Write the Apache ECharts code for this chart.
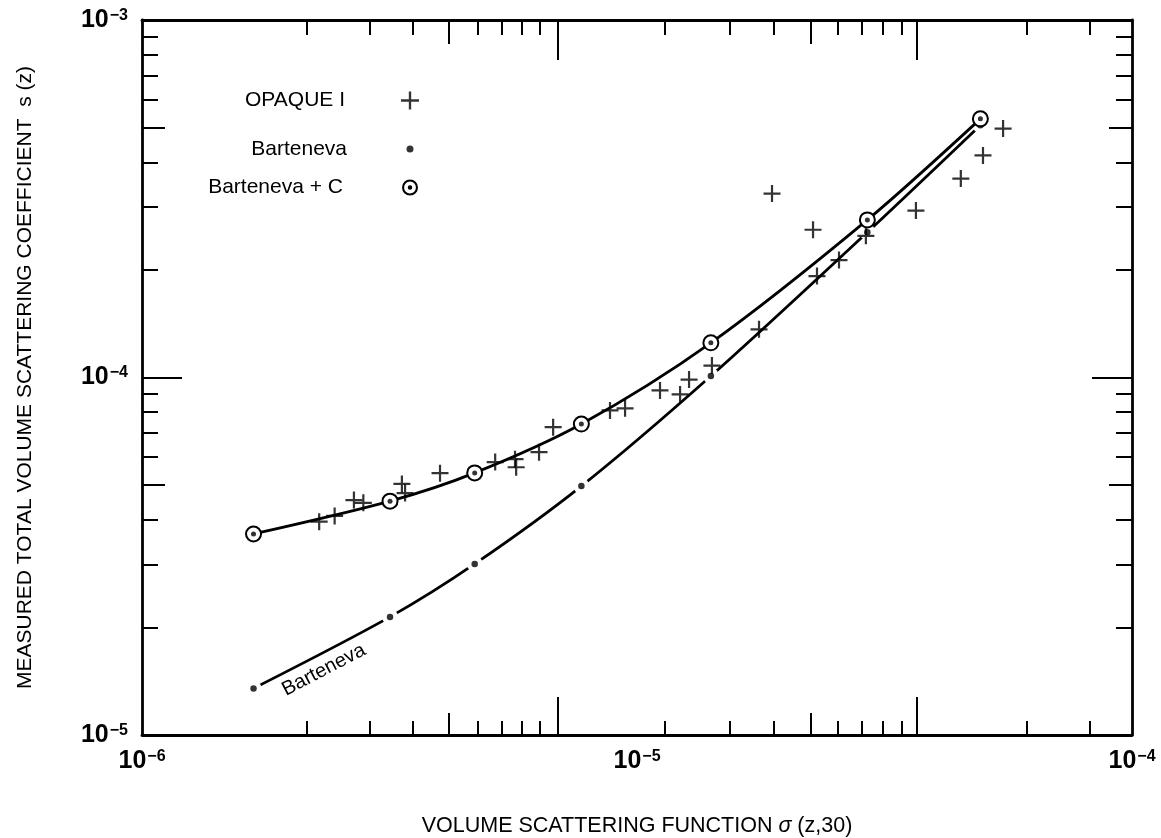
<!DOCTYPE html>
<html><head><meta charset="utf-8">
<script src="https://cdn.jsdelivr.net/npm/echarts@6/dist/echarts.min.js"></script>
<style>html,body{margin:0;padding:0;background:#fff}#c{width:1161px;height:838px}</style>
</head><body><div id="c"></div>
<script>
// ---- data ----
const modelSigma  = [1.68e-6, 3.17e-6, 4.70e-6, 7.72e-6, 1.41e-5, 2.92e-5, 4.94e-5];
const barteneva   = [1.35e-5, 2.14e-5, 3.01e-5, 4.97e-5, 1.01e-4, 2.55e-4, 5.08e-4];
const bartenevaC  = [3.65e-5, 4.51e-5, 5.41e-5, 7.41e-5, 1.25e-4, 2.76e-4, 5.29e-4];
const opaqueSigma = [2.28e-6, 2.45e-6, 2.68e-6, 2.80e-6, 3.35e-6, 3.40e-6, 4.00e-6, 5.17e-6, 5.67e-6, 5.70e-6,
                     6.34e-6, 6.77e-6, 8.82e-6, 9.46e-6, 1.113e-5, 1.222e-5, 1.274e-5, 1.417e-5, 1.764e-5, 1.874e-5,
                     2.268e-5, 2.31e-5, 2.559e-5, 2.90e-5, 3.66e-5, 4.51e-5, 5.00e-5, 5.49e-5];
const opaqueS     = [3.95e-5, 4.10e-5, 4.54e-5, 4.46e-5, 5.04e-5, 4.75e-5, 5.40e-5, 5.80e-5, 5.91e-5, 5.61e-5,
                     6.18e-5, 7.26e-5, 8.09e-5, 8.20e-5, 9.20e-5, 8.97e-5, 9.87e-5, 1.08e-4, 1.364e-4, 3.27e-4,
                     2.59e-4, 1.922e-4, 2.13e-4, 2.49e-4, 2.93e-4, 3.60e-4, 4.18e-4, 4.97e-4];
// tick labels and tick marks
const xLabelValues = [1e-6, 1e-5, 1e-4];
const yLabelValues = [1e-5, 1e-4, 1e-3];
const xMajorTicks = [6.92e-6, 3.68e-5];
const xMidTicks   = [4.17e-6, 2.24e-5];
const xMinorTicks = [2.15e-6, 2.88e-6, 3.53e-6, 4.77e-6, 5.34e-6, 5.86e-6, 6.37e-6,
                     1.14e-5, 1.54e-5, 1.89e-5, 2.55e-5, 2.85e-5, 3.14e-5, 3.42e-5, 6.14e-5, 8.23e-5];
const yMajorTicks = [1e-4];
const yMidTicks   = [5e-5, 5e-4];
const yMinorTicks = [2e-5, 3e-5, 4e-5, 6e-5, 7e-5, 8e-5, 9e-5, 2e-4, 3e-4, 4e-4, 6e-4, 7e-4, 8e-4, 9e-4];
const curveLabelAt = [2.33e-6, 1.52e-5];

const xTitle = 'VOLUME SCATTERING FUNCTION {i|σ} (z,30)';
const yTitle = 'MEASURED TOTAL VOLUME SCATTERING COEFFICIENT  s (z)';

// ---- styling ----
const FONT = '"Liberation Sans", Arial, Helvetica, sans-serif';
const BLACK = '#000';
const PLUS = 'path://M8.7,0 H11.3 V8.7 H20 V11.3 H11.3 V20 H8.7 V11.3 H0 V8.7 H8.7 Z';
const RINGDOT = 'path://M10,0 A10,10 0 1,1 10,20 A10,10 0 1,1 10,0 Z M10,2.6 A7.4,7.4 0 1,0 10,17.4 A7.4,7.4 0 1,0 10,2.6 Z M10,7.2 A2.8,2.8 0 1,1 10,12.8 A2.8,2.8 0 1,1 10,7.2 Z';

function supLabel(v) {
  const e = Math.round(Math.log10(v));
  return '{b|10}{s|' + (e < 0 ? '\u2212' : '') + Math.abs(e) + '}';
}
const labelRich = {
  b: { fontSize: 25, fontWeight: 'bold', fontFamily: FONT, color: BLACK },
  s: { fontSize: 16, fontWeight: 'bold', fontFamily: FONT, color: BLACK, verticalAlign: 'top', padding: [0, 0, 0, 1] }
};

function axis(dim, pos, ticks, len, extra) {
  const isX = dim === 'x';
  const base = {
    type: 'log', logBase: 10, gridIndex: 0, position: pos,
    min: isX ? 1e-6 : 1e-5, max: isX ? 1e-4 : 1e-3,
    axisLine: { show: false, onZero: false },
    axisTick: { show: true, inside: true, length: len, customValues: ticks, lineStyle: { color: BLACK, width: 2 } },
    minorTick: { show: false },
    axisLabel: { show: false },
    splitLine: { show: false },
    minorSplitLine: { show: false },
    silent: true
  };
  return Object.assign(base, extra || {});
}
const frameLine = { show: true, onZero: false, lineStyle: { color: BLACK, width: 2.8 } };

const xAxes = [
  axis('x', 'bottom', xMajorTicks, 38, {
    axisLine: frameLine,
    axisLabel: { show: true, customValues: xLabelValues, formatter: supLabel, rich: labelRich, margin: 14 },
    name: xTitle, nameLocation: 'middle', nameGap: 80,
    nameTextStyle: { fontSize: 21.5, fontFamily: FONT, color: BLACK, rich: { i: { fontSize: 21.5, fontStyle: 'italic', fontFamily: FONT, color: BLACK } } }
  }),
  axis('x', 'bottom', xMidTicks, 22),
  axis('x', 'bottom', xMinorTicks, 14),
  axis('x', 'top', xMajorTicks, 40, { axisLine: frameLine }),
  axis('x', 'top', xMidTicks, 24),
  axis('x', 'top', xMinorTicks, 15)
];
const yAxes = [
  axis('y', 'left', yMajorTicks, 40, {
    axisLine: frameLine,
    axisLabel: { show: true, customValues: yLabelValues, formatter: supLabel, rich: labelRich, margin: 14 },
    name: yTitle, nameLocation: 'middle', nameGap: 106, nameRotate: 90,
    nameTextStyle: { fontSize: 21, fontFamily: FONT, color: BLACK }
  }),
  axis('y', 'left', yMidTicks, 23),
  axis('y', 'left', yMinorTicks, 16),
  axis('y', 'right', yMajorTicks, 40, { axisLine: frameLine }),
  axis('y', 'right', yMidTicks, 23),
  axis('y', 'right', yMinorTicks, 16)
];

const pair = (xs, ys) => xs.map((x, i) => [x, ys[i]]);

function legendBox(name, icon, size, centerX, centerY, textEnd) {
  const iconLeft = centerX - size / 2;
  return {
    data: [{ name: name, icon: icon }],
    orient: 'vertical', align: 'right',
    right: 1161 - (centerX + size / 2), top: centerY - size / 2,
    itemWidth: size, itemHeight: size, padding: 0,
    itemStyle: { color: BLACK, borderWidth: 0 },
    textStyle: { fontSize: 21, fontFamily: FONT, color: BLACK, padding: [0, iconLeft - 5 - textEnd, 0, 0] },
    selectedMode: false
  };
}

const chart = echarts.init(document.getElementById('c'), null, { renderer: 'canvas' });
chart.setOption({
  backgroundColor: '#fff',
  animation: false,
  grid: { left: 142, right: 29, top: 20, bottom: 103, containLabel: false, outerBoundsMode: 'none' },
  xAxis: xAxes,
  yAxis: yAxes,
  legend: [
    legendBox('OPAQUE I', PLUS, 18, 410, 99, 345),
    legendBox('Barteneva', 'circle', 7, 410, 142, 347),
    legendBox('Barteneva + C', RINGDOT, 16, 410, 185, 343)
  ],
  series: [
    { name: 'Barteneva curve', type: 'line', data: pair(modelSigma, barteneva), smooth: 0.3,
      symbol: 'circle', symbolSize: 16, itemStyle: { color: '#fff' },
      lineStyle: { color: BLACK, width: 2.8 }, z: 2, silent: true, emphasis: { disabled: true } },
    { name: 'Barteneva', type: 'scatter', data: pair(modelSigma, barteneva),
      symbol: 'circle', symbolSize: 6.5, itemStyle: { color: BLACK }, z: 3, silent: true },
    { name: 'Barteneva + C', type: 'line', data: pair(modelSigma, bartenevaC), smooth: 0.3,
      symbol: 'emptyCircle', symbolSize: 15, itemStyle: { color: BLACK, borderColor: BLACK, borderWidth: 2.4 },
      lineStyle: { color: BLACK, width: 2.8 }, z: 4, silent: true, emphasis: { disabled: true } },
    { name: 'Barteneva + C centre', type: 'scatter', data: pair(modelSigma, bartenevaC),
      symbol: 'circle', symbolSize: 5, itemStyle: { color: BLACK }, z: 5, silent: true },
    { name: 'OPAQUE I', type: 'scatter', data: pair(opaqueSigma, opaqueS),
      symbol: PLUS, symbolSize: 17, itemStyle: { color: BLACK }, z: 6, silent: true }
  ]
});

const p = chart.convertToPixel({ gridIndex: 0 }, curveLabelAt);
chart.setOption({
  graphic: [{
    type: 'text', x: p[0], y: p[1], rotation: 27.5 * Math.PI / 180, silent: true,
    style: { text: 'Barteneva', font: '20px ' + FONT, fill: BLACK, align: 'center', verticalAlign: 'middle' }
  }]
});
</script>
</body></html>
